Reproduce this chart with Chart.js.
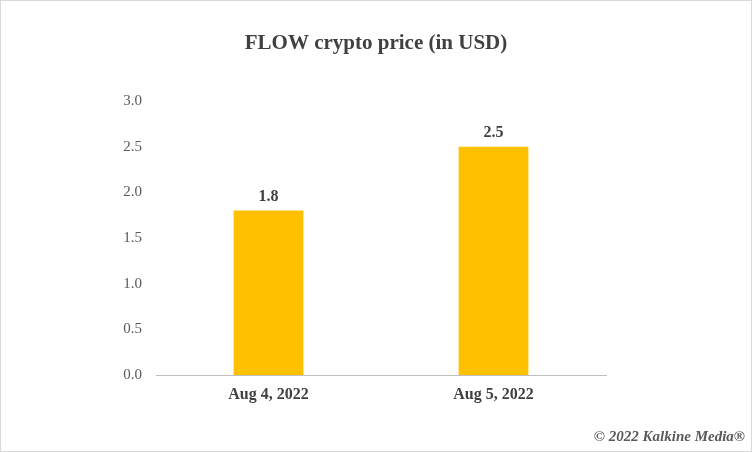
<!DOCTYPE html>
<html>
<head>
<meta charset="utf-8">
<script src="https://cdn.jsdelivr.net/npm/chart.js@4"></script>
<style>
  body { margin: 0; background: #fff; }
  #wrap { width: 750px; height: 450px; border: 1px solid #d9d9d9; position: relative; }
</style>
</head>
<body>
<div id="wrap"><canvas id="priceChart" width="750" height="450"></canvas></div>
<script>
const categories = ['Aug 4, 2022', 'Aug 5, 2022'];
const prices = [1.8, 2.5];
const yTicks = [0, 0.5, 1, 1.5, 2, 2.5, 3];

const serif = '"Liberation Serif", "Times New Roman", serif';

// Title, data labels and watermark
const extras = {
    id: 'extras',
    afterDatasetsDraw(chart) {
        const ctx = chart.ctx;
        ctx.save();
        ctx.fillStyle = '#404040';
        ctx.textAlign = 'center';
        ctx.font = 'bold 21px ' + serif;
        ctx.fillText('FLOW crypto price (in USD)', 375, 48);

        ctx.font = 'bold 16px ' + serif;
        chart.getDatasetMeta(0).data.forEach((bar, i) => {
            ctx.fillText(prices[i].toFixed(1), bar.x, bar.y - 10);
        });

        ctx.textAlign = 'right';
        ctx.fillStyle = '#595959';
        ctx.font = 'italic bold 15px ' + serif;
        ctx.fillText('\u00a9 2022 Kalkine Media\u00ae', 744, 440);
        ctx.restore();
    }
};

new Chart(document.getElementById('priceChart'), {
    type: 'bar',
    data: {
        labels: categories,
        datasets: [{
            data: prices,
            backgroundColor: '#ffc000',
            barPercentage: 0.31,
            categoryPercentage: 1
        }]
    },
    options: {
        responsive: false,
        animation: false,
        layout: { padding: { top: 100, right: 145, bottom: 46, left: 0 } },
        plugins: { legend: { display: false }, tooltip: { enabled: false } },
        scales: {
            x: {
                grid: { display: false, drawTicks: false },
                border: { color: '#bfbfbf' },
                ticks: { color: '#404040', font: { family: serif, size: 16, weight: 'bold' }, padding: 10 },
                afterFit(scale) { scale.height = 30; }
            },
            y: {
                min: 0, max: 3,
                afterBuildTicks(scale) { scale.ticks = yTicks.map(v => ({ value: v })); },
                grid: { display: false, drawTicks: false },
                border: { display: false },
                ticks: {
                    color: '#595959',
                    font: { family: serif, size: 15 },
                    padding: 14,
                    callback: v => v.toFixed(1)
                },
                afterFit(scale) { scale.width = 155; }
            }
        }
    },
    plugins: [extras]
});
</script>
</body>
</html>
